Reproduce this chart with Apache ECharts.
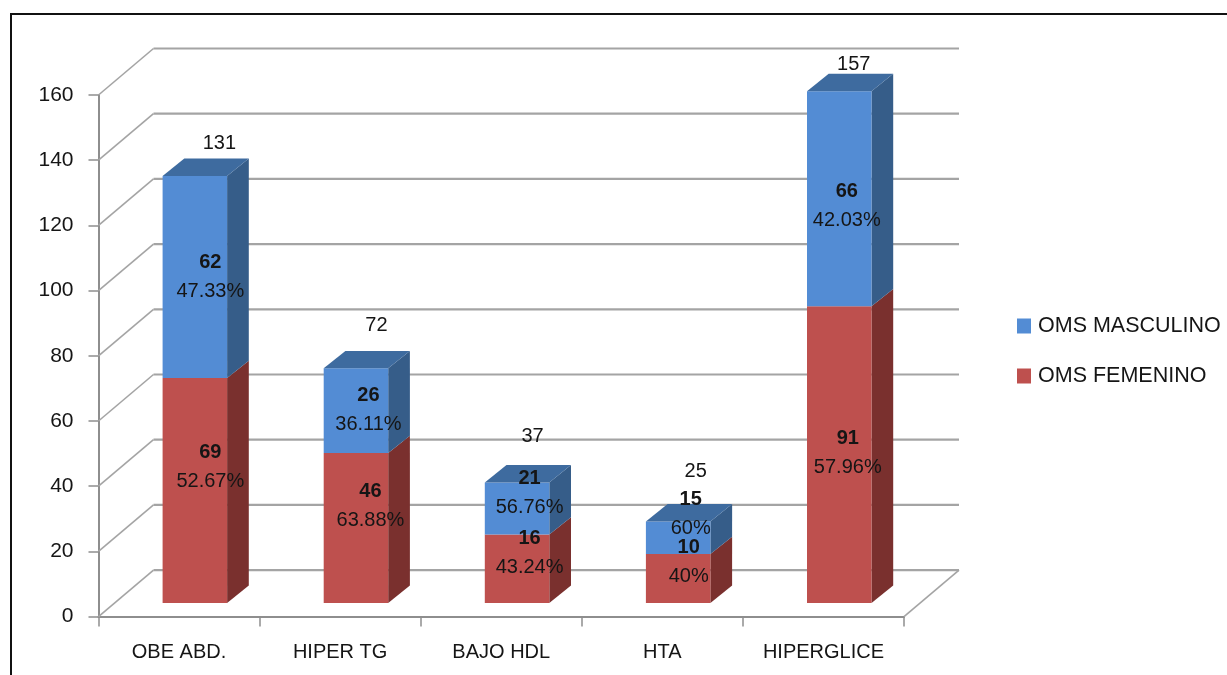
<!DOCTYPE html>
<html>
<head>
<meta charset="utf-8">
<style>html,body{margin:0;padding:0;background:#fff}#chart{width:1227px;height:675px}</style>
<script src="https://cdn.jsdelivr.net/npm/echarts@6/dist/echarts.min.js"></script>
</head>
<body>
<div id="chart"></div>
<script>
// Síndrome metabólico: casos por criterio, separados por sexo
const categories = ['OBE ABD.', 'HIPER TG', 'BAJO HDL', 'HTA', 'HIPERGLICE'];
const femenino = [69, 46, 21, 15, 91];
const masculino = [62, 26, 16, 10, 66];
const totals = [131, 72, 37, 25, 157];
const yTicks = [0, 20, 40, 60, 80, 100, 120, 140, 160];

// Etiquetas de cada columna: bloque superior e inferior
const upperCounts = ['62', '26', '21', '15', '66'];
const upperShares = ['47.33%', '36.11%', '56.76%', '60%', '42.03%'];
const lowerCounts = ['69', '46', '16', '10', '91'];
const lowerShares = ['52.67%', '63.88%', '43.24%', '40%', '57.96%'];

// Desplazamientos de las etiquetas colocadas a mano, en píxeles [dx, dy]
const upperNudge = [[15.5, -0.5], [12.5, -1], [12.5, -15], [12.5, -24], [7.5, 7.7]];
const lowerNudge = [[15.5, -23.5], [14.5, -22], [12.5, -16], [10.5, -16.5], [8.5, -2]];
const totalNudge = [[24.5, -32], [20.5, -43], [15.5, -46], [17.5, -50.5], [14.5, -27]];

// Proyección oblicua del gráfico 3D
const WALL = {dx: 55, dy: -46.5};
const FLOOR = {dx: 15.8, dy: -13.6};
const DEPTH = {dx: 21.7, dy: -17.4};
const BAR_WIDTH = 64.5;

const FONT = '"Liberation Sans", Arial, sans-serif';
const INK = '#151515';

const faces = {
  blue: {front: '#538CD4', side: '#365D89', top: '#3E6B9F'},
  red: {front: '#BE504E', side: '#7A302E', top: '#93403E'}
};

function wallItem(params, api) {
  const cs = params.coordSys;
  const y = api.coord([0, api.value(0)])[1];
  const x0 = cs.x, x1 = cs.x + cs.width;
  const line = (shape, width) => ({
    type: 'polyline', shape: {points: shape},
    style: {fill: null, stroke: '#A4A4A4', lineWidth: width}
  });
  const children = [
    line([[x0, y], [x0 + WALL.dx, y + WALL.dy]], 1.6),
    line([[x0 + WALL.dx, y + WALL.dy], [x1 + WALL.dx, y + WALL.dy]], 2.2)
  ];
  if (api.value(0) === 0) {
    children.push(line([[x1, y], [x1 + WALL.dx, y + WALL.dy]], 1.6));
  }
  return {type: 'group', children};
}

function barItem(palette) {
  return function (params, api) {
    const cat = api.value(0);
    const base = api.coord([cat, api.value(1)]);
    const head = api.coord([cat, api.value(2)]);
    const xl = base[0] + FLOOR.dx - BAR_WIDTH / 2;
    const xr = xl + BAR_WIDTH;
    const yb = base[1] + FLOOR.dy;
    const yt = head[1] + FLOOR.dy;
    const poly = (points, fill) => ({type: 'polygon', shape: {points}, style: {fill}});
    const children = [
      poly([[xr, yb], [xr + DEPTH.dx, yb + DEPTH.dy], [xr + DEPTH.dx, yt + DEPTH.dy], [xr, yt]], palette.side),
      poly([[xl, yb], [xr, yb], [xr, yt], [xl, yt]], palette.front)
    ];
    if (palette === faces.blue) {
      children.push(poly([[xl, yt], [xr, yt], [xr + DEPTH.dx, yt + DEPTH.dy], [xl + DEPTH.dx, yt + DEPTH.dy]], palette.top));
    }
    return {type: 'group', children};
  };
}

function labelItem(params, api) {
  const i = api.value(0);
  const text = (str, x, y, bold) => ({
    type: 'text',
    style: {
      text: str, x, y, fill: INK, align: 'center', verticalAlign: 'middle',
      font: (bold ? 'bold ' : '') + '20px ' + FONT
    }
  });
  const at = (value, nudge) => {
    const p = api.coord([i, value]);
    return [p[0] + FLOOR.dx + nudge[0], p[1] + FLOOR.dy + nudge[1]];
  };
  const upper = at(femenino[i] + masculino[i] / 2, upperNudge[i]);
  const lower = at(femenino[i] / 2, lowerNudge[i]);
  const total = at(femenino[i] + masculino[i], totalNudge[i]);
  return {
    type: 'group',
    children: [
      text(String(totals[i]), total[0], total[1], false),
      text(upperCounts[i], upper[0], upper[1] - 14.5, true),
      text(upperShares[i], upper[0], upper[1] + 14.5, false),
      text(lowerCounts[i], lower[0], lower[1] - 14.5, true),
      text(lowerShares[i], lower[0], lower[1] + 14.5, false)
    ]
  };
}

const chart = echarts.init(document.getElementById('chart'));
chart.setOption({
  animation: false,
  backgroundColor: '#fff',
  grid: {left: 98.5, top: 95, width: 805.5, height: 521.6, containLabel: false},
  legend: {
    data: ['OMS MASCULINO', 'OMS FEMENINO'],
    orient: 'vertical', left: 1012, top: 310, icon: 'rect',
    itemWidth: 14, itemHeight: 15, itemGap: 28,
    textStyle: {fontFamily: FONT, fontSize: 21.5, color: INK, padding: [0, 0, 0, 2]},
    selectedMode: false
  },
  xAxis: {
    type: 'category', data: categories,
    axisLine: {lineStyle: {color: '#8E8E8E', width: 2}},
    axisTick: {show: true, alignWithLabel: false, length: 10, lineStyle: {color: '#8E8E8E', width: 1.5}},
    axisLabel: {color: INK, fontFamily: FONT, fontSize: 20, margin: 26, interval: 0}
  },
  yAxis: {
    type: 'value', min: 0, max: 160, interval: 20,
    splitLine: {show: false},
    axisLine: {show: true, lineStyle: {color: '#8E8E8E', width: 2}},
    axisTick: {show: true, length: 10, lineStyle: {color: '#8E8E8E', width: 1.5}},
    axisLabel: {color: INK, fontFamily: FONT, fontSize: 21, margin: 25, padding: [4, 0, 0, 0]}
  },
  series: [
    {
      type: 'custom', silent: true, z: 1, clip: false,
      renderItem: wallItem,
      encode: {y: 0},
      data: yTicks.map(v => [v])
    },
    {
      name: 'OMS FEMENINO', type: 'custom', z: 3, clip: false,
      itemStyle: {color: faces.red.front},
      renderItem: barItem(faces.red),
      encode: {x: 0, y: [1, 2]},
      data: femenino.map((v, i) => [i, 0, v])
    },
    {
      name: 'OMS MASCULINO', type: 'custom', z: 4, clip: false,
      itemStyle: {color: faces.blue.front},
      renderItem: barItem(faces.blue),
      encode: {x: 0, y: [1, 2]},
      data: masculino.map((v, i) => [i, femenino[i], femenino[i] + v])
    },
    {
      type: 'custom', silent: true, z: 5, clip: false,
      renderItem: labelItem,
      encode: {x: 0},
      data: categories.map((c, i) => [i])
    }
  ],
  graphic: [{
    type: 'polyline', silent: true, z: 10,
    shape: {points: [[11, 675], [11, 14], [1227, 14]]},
    style: {fill: null, stroke: '#111', lineWidth: 2}
  }]
});
</script>
</body>
</html>
